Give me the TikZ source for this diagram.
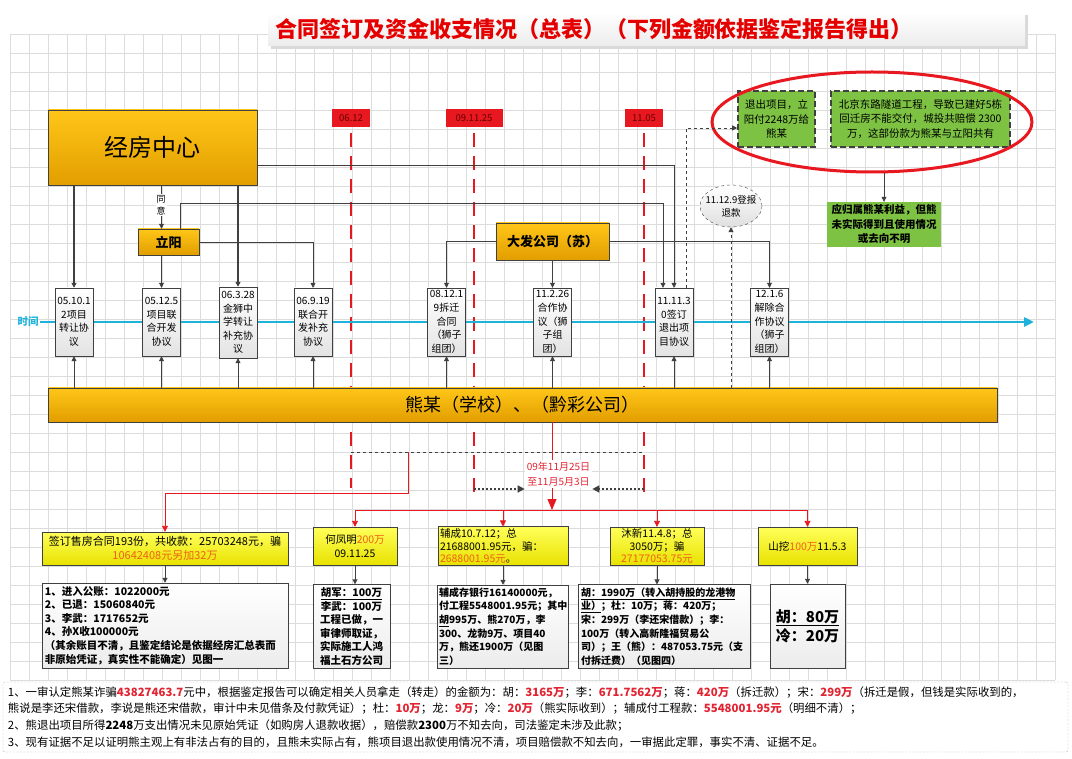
\documentclass[tikz,border=0pt]{standalone}
\usepackage{fontspec}
\setmainfont{Noto Sans CJK SC}
\usetikzlibrary{shapes.geometric, positioning, arrows.meta, calc}

\definecolor{gridgray}{RGB}{220,220,220}
\definecolor{linegray}{RGB}{64,64,64}
\definecolor{orangetop}{RGB}{255,198,24}
\definecolor{orangebot}{RGB}{226,158,0}
\definecolor{yellowtop}{RGB}{255,255,90}
\definecolor{yellowbot}{RGB}{232,226,0}
\definecolor{leafgreen}{RGB}{125,194,66}
\definecolor{tagred}{RGB}{232,24,32}
\definecolor{hlred}{RGB}{226,36,50}
\definecolor{numorange}{RGB}{240,96,24}
\definecolor{timecyan}{RGB}{30,178,218}

\newcommand{\redn}[1]{\textcolor{hlred}{\textbf{#1}}}
\newcommand{\orn}[1]{\textcolor{numorange}{#1}}

\begin{document}
\begin{tikzpicture}[x=1pt, y=-1pt,
    every node/.style={inner sep=1.5pt},
    gold/.style={draw=linegray, top color=orangetop, bottom color=orangebot},
    pact/.style={draw=linegray, top color=white, bottom color=gray!22, minimum width=38, minimum height=68, align=center, font=\fontsize{10}{13.6}\selectfont},
    datetag/.style={fill=tagred, minimum height=18, text=red!40!black, font=\fontsize{9.5}{11}\selectfont},
    redline/.style={tagred, line width=2.2pt, dash pattern=on 14pt off 9pt},
    link/.style={linegray, line width=0.8pt, -{Triangle[length=5pt,width=5pt]}},
    dlink/.style={link, dashed},
    rlink/.style={tagred, line width=0.9pt, -{Triangle[length=6pt,width=6pt]}},
    dotarrow/.style={linegray, line width=1.6pt, dash pattern=on 2pt off 2pt, -{Triangle[length=7pt,width=7pt]}},
    leaf/.style={fill=leafgreen, draw=linegray, line width=1.6pt, dash pattern=on 6pt off 3pt, align=center, font=\fontsize{10.5}{14.5}\selectfont},
    ybox/.style={draw=linegray, top color=yellowtop, bottom color=yellowbot, align=center, font=\fontsize{10.5}{14}\selectfont},
    wbox/.style={draw=linegray, top color=white, bottom color=gray!15, font=\fontsize{10.5}{13.6}\selectfont\bfseries, inner sep=3pt}
]
    \useasboundingbox (0,0) rectangle (1072,759);

    % --- grid paper ---
    \foreach \gx in {10,29,...,1055} \draw[gridgray, line width=0.4pt] (\gx,34) -- (\gx,680);
    \foreach \gy in {34,53,...,680} \draw[gridgray, line width=0.4pt] (10,\gy) -- (1055,\gy);

    % --- title ---
    \fill[gray!30] (271,15) rectangle (1028,49);
    \fill[top color=white, bottom color=gray!15] (268,12) rectangle (1025,46);
    \node[text=red!90!black, font=\fontsize{22}{26}\selectfont\bfseries] (title) at (594,29) {合同签订及资金收支情况（总表）（下列金额依据鉴定报告得出）};

    % --- date markers ---
    \node[datetag, minimum width=38] (d1) at (351,118) {06.12};
    \node[datetag, minimum width=57] (d2) at (474,118) {09.11.25};
    \node[datetag, minimum width=38] (d3) at (644,118) {11.05};
    \coordinate (e1) at (351,488);
    \coordinate (e2) at (474,500);
    \coordinate (e3) at (644,500);
    \draw[redline] ([yshift=-6]d1.south) -- (e1);
    \draw[redline] ([yshift=-6]d2.south) -- (e2);
    \draw[redline] ([yshift=-6]d3.south) -- (e3);

    % --- time axis ---
    \node[text=timecyan, font=\fontsize{10.5}{12}\selectfont\bfseries] (sj) at (28,322) {时间};
    \coordinate (tend) at (1034,322);
    \draw[timecyan, line width=2.5pt, -{Triangle[length=10pt,width=9pt]}] (sj.east) -- (tend);

    % --- parties ---
    \node[gold, minimum width=209, minimum height=75, font=\fontsize{24}{28}\selectfont] (jf) at (152.5,147.5) {经房中心};
    \node[gold, minimum width=61, minimum height=26, font=\fontsize{13}{15}\selectfont\bfseries] (ly) at (168.5,242) {立阳};
    \node[gold, minimum width=113, minimum height=37, font=\fontsize{13}{15}\selectfont\bfseries] (df) at (552.5,241.5) {大发公司（苏）};
    \node[gold, minimum width=949, minimum height=34, font=\fontsize{18}{20}\selectfont] (xm) at (522.5,405) {熊某（学校）、（黔彩公司）};

    % --- agreements on the time axis ---
    \node[pact] (t1) at (74,322) {05.10.1\\2项目\\转让协\\议};
    \node[pact] (t2) at (161.5,322) {05.12.5\\项目联\\合开发\\协议};
    \node[pact, minimum height=71] (t3) at (238,322.5) {06.3.28\\金狮中\\学转让\\补充协\\议};
    \node[pact] (t4) at (313,322) {06.9.19\\联合开\\发补充\\协议};
    \node[pact] (t5) at (446.5,322) {08.12.1\\9拆迁\\合同\\（狮子\\组团）};
    \node[pact] (t6) at (552.5,322) {11.2.26\\合作协\\议（狮\\子组\\团）};
    \node[pact] (t7) at (674,322) {11.11.3\\0签订\\退出项\\目协议};
    \node[pact] (t8) at (769.5,322) {12.1.6\\解除合\\作协议\\（狮子\\组团）};

    % --- compensation (top right) ---
    \node[leaf, minimum width=77, minimum height=56] (g1) at (776.5,119) {退出项目，立\\阳付2248万给\\熊某};
    \node[leaf, minimum width=179, minimum height=56] (g2) at (920.5,119) {北京东路隧道工程，导致已建好5栋\\回迁房不能交付，城投共赔偿 2300\\万，这部份款为熊某与立阳共有};
    \node[draw=tagred, ellipse, line width=3pt, minimum width=320, minimum height=100] (rim) at (872,122) {};
    \node[fill=leafgreen, minimum width=114, minimum height=45, align=center, font=\fontsize{10.5}{14.5}\selectfont\bfseries] (g3) at (884,224.5) {应归属熊某利益，但熊\\未实际得到且使用情况\\或去向不明};
    \node[ellipse, draw=linegray, dashed, top color=white, bottom color=gray!25, minimum width=62, minimum height=42, inner sep=-4pt, align=center, font=\fontsize{9.5}{13}\selectfont] (tk) at (731,206) {11.12.9登报\\退款};

    % --- connectors above the axis ---
    \draw[link, line width=1.8pt] (jf.south -| t1.north) -- (t1.north);
    \draw[link, line width=1.8pt] (jf.south -| t3.north) -- (t3.north);
    \draw[link] (jf.south -| t2.north) -- (ly.north -| t2.north);
    \node[fill=white, align=center, font=\fontsize{9}{12}\selectfont, inner sep=1pt] (ty) at (161,205) {同\\意};
    \draw[link] ([yshift=-18]jf.east) -| (t7.north);
    \draw[link] ([xshift=12]ly.north) -- ++(0,-25) -| ([xshift=-11]t7.north);
    \draw[link] (ly.east) -| (t4.north);
    \draw[link] (ly.south -| t2.north) -- (t2.north);
    \draw[link] (df.west) -| (t5.north);
    \draw[link] (df.east) -| (t8.north);
    \draw[link] (df.south) -- (t6.north);
    \draw[dlink] ([xshift=12]t7.north) |- ([yshift=-9]g1.west);
    \draw[link] (rim.south -| g3.north) -- (g3.north);

    % --- connectors below the axis ---
    \foreach \k in {1,...,8} \draw[link] (xm.north -| t\k.south) -- (t\k.south);
    \draw[dlink] (xm.north -| tk.south) -- (tk.south);

    % --- money flow ---
    \coordinate (m1) at (351,452);
    \coordinate (m2) at (644,452);
    \coordinate (c1) at (408,452);
    \coordinate (bus) at (552,510);
    \coordinate (p1) at (474,489);
    \coordinate (p2) at (644,489);
    \draw[linegray, dashed, line width=0.8pt] (m1) -- (m2);
    \draw[rlink, -{Triangle[length=11pt,width=9pt]}] (xm.south -| bus) -- (bus);
    \node[fill=white, text=hlred, align=center, font=\fontsize{10}{15}\selectfont, inner sep=2pt] (tx) at (558.5,474) {09年11月25日\\至11月5月3日};
    \draw[dotarrow] (p1) -- (p1 -| tx.west);
    \draw[dotarrow] (p2) -- (p2 -| tx.east);

    \node[ybox, minimum width=246, minimum height=33, font=\fontsize{11}{14}\selectfont] (y1) at (165,548.5) {签订售房合同193份，共收款：25703248元，骗\\\orn{10642408元另加32万}};
    \node[ybox, minimum width=84, minimum height=38] (y2) at (355,546) {何凤明\orn{200万}\\09.11.25};
    \node[ybox, text width=126, minimum height=38, align=left, inner sep=2pt, font=\fontsize{10.5}{12.5}\selectfont] (y3) at (503,546) {辅成10.7.12；总\\21688001.95元，骗：\\\orn{2688001.95元}。};
    \node[ybox, minimum width=94, minimum height=38, font=\fontsize{10.5}{12.5}\selectfont] (y4) at (657,546) {沐新11.4.8；总\\3050万；骗\\\orn{27177053.75元}};
    \node[ybox, minimum width=99, minimum height=38] (y5) at (807.5,546) {山挖\orn{100万}11.5.3};

    \draw[rlink] (c1) -- ++(0,41) -| (y1.north);
    \draw[tagred, line width=0.9pt] (y2.north |- bus) -- (y5.north |- bus);
    \foreach \k in {2,...,5} \draw[rlink] (y\k.north |- bus) -- (y\k.north);

    \node[wbox, text width=240, minimum height=85, align=left] (w1) at (165,625.5) {1、进入公账：1022000元\\2、已退：15060840元\\3、李武：1717652元\\4、孙X收100000元\\（其余账目不清，且鉴定结论是依据经房汇总表而\\非原始凭证，真实性不能确定）见图一};
    \node[wbox, text width=71, minimum height=83, align=center] (w2) at (351.5,626.5) {\underline{胡军：100万}\\李武：100万\\工程已做，一\\审律师取证，\\实际施工人鸿\\福土石方公司};
    \node[wbox, text width=127, minimum height=83, align=left, inner sep=2pt, font=\fontsize{10}{13.6}\selectfont\bfseries] (w3) at (502.5,626.5) {辅成存银行16140000元，\\付工程5548001.95元；其中\\\underline{胡}995万、熊270万，李\\300、龙勃9万、项目40\\万，熊还1900万（见图\\三）};
    \node[wbox, text width=166, minimum height=83, align=left, font=\fontsize{10}{13.6}\selectfont\bfseries] (w4) at (664,626.5) {\underline{胡：1990万（转入胡持股的龙港物}\\\underline{业）}；杜：10万；蒋：420万；\\宋：299万（李还宋借款）；李：\\100万（转入高新隆福贸易公\\司）；王（熊）：487053.75元（支\\付拆迁费）（见图四）};
    \node[wbox, text width=69, minimum height=84, align=center, font=\fontsize{15}{19}\selectfont\bfseries] (w5) at (807.5,626) {\underline{胡：80万}\\冷：20万};

    \foreach \k in {1,...,5} \draw[link, line width=1pt] (y\k.south) -- (y\k.south |- w\k.north);

    % --- notes ---
    \node[draw=gray!60, dash pattern=on 2pt off 1.5pt, rounded corners=2pt, fill=white, minimum width=1065, minimum height=70, text width=1055, align=left, inner sep=4pt, font=\fontsize{11.4}{16.6}\selectfont] (note) at (535.5,717) {1、一审认定熊某诈骗\redn{43827463.7}元中，根据鉴定报告可以确定相关人员拿走（转走）的金额为：胡：\redn{3165万}；李：\redn{671.7562万}；蒋：\redn{420万}（拆迁款）；宋：\redn{299万}（拆迁是假，但钱是实际收到的，\\熊说是李还宋借款，李说是熊还宋借款，审计中未见借条及付款凭证）；杜：\redn{10万}；龙：\redn{9万}；冷：\redn{20万}（熊实际收到）；辅成付工程款：\redn{5548001.95元}（明细不清）；\\2、熊退出项目所得\textbf{2248}万支出情况未见原始凭证（如购房人退款收据），赔偿款\textbf{2300}万不知去向，司法鉴定未涉及此款；\\3、现有证据不足以证明熊主观上有非法占有的目的，且熊未实际占有，熊项目退出款使用情况不清，项目赔偿款不知去向，一审据此定罪，事实不清、证据不足。};
\end{tikzpicture}
\end{document}
